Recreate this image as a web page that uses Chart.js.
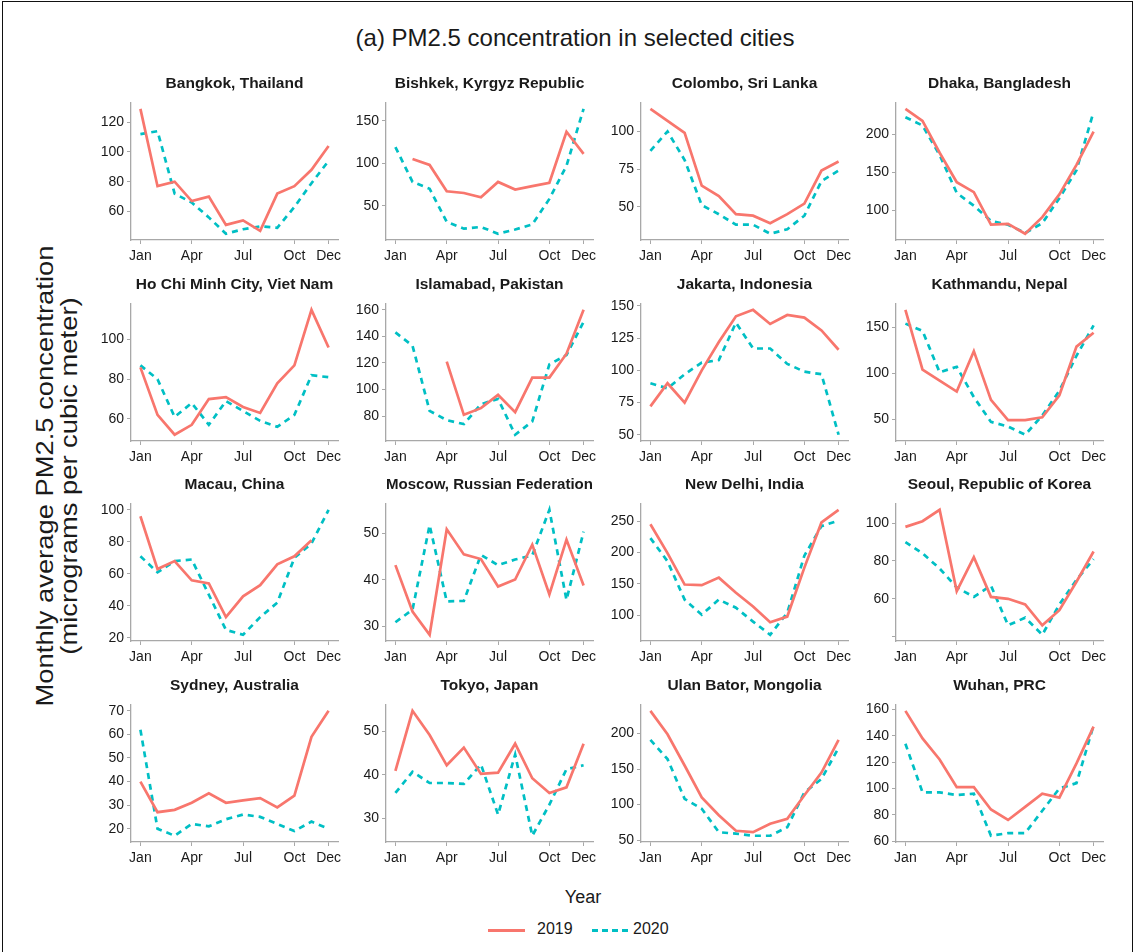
<!DOCTYPE html>
<html lang="en">
<head>
<meta charset="UTF-8">
<title>PM2.5 concentration in selected cities</title>
<script src="https://cdn.jsdelivr.net/npm/chart.js"></script>
<style>
    body {
        margin: 0;
        background: #ffffff;
        font-family: "Liberation Sans", Arial, sans-serif;
        color: #1a1a1a;
    }
    #page {
        position: relative;
        width: 1136px;
        height: 952px;
        overflow: hidden;
    }
    #frame {
        position: absolute;
        left: 2px;
        top: 1px;
        width: 1129px;
        height: 1000px;
        border: 1.5px solid #111;
    }
    #title {
        position: absolute;
        left: 0;
        width: 1150px;
        top: 24px;
        text-align: center;
        font-size: 24px;
    }
    #ylab {
        position: absolute;
        left: 57px;
        top: 476px;
        width: 700px;
        text-align: center;
        font-size: 24px;
        line-height: 24px;
        transform: translate(-50%, -50%) rotate(-90deg) scaleX(1.14);
    }
    #xlab {
        position: absolute;
        left: 483px;
        width: 200px;
        top: 887px;
        text-align: center;
        font-size: 18px;
    }
    .panel {
        position: absolute;
    }
    .key {
        position: absolute;
        top: 920px;
        font-size: 16px;
    }
    .swatch {
        position: absolute;
        top: 929px;
        width: 37px;
        height: 3px;
    }
</style>
</head>
<body>
<div id="page">
    <div id="frame"></div>
    <div id="title">(a) PM2.5 concentration in selected cities</div>
    <div id="ylab">Monthly average PM2.5 concentration<br>(micrograms per cubic meter)</div>
    <div id="xlab">Year</div>

    <!-- legend -->
    <div class="swatch" style="left:488px; background:#F8766D;"></div>
    <div class="key" style="left:537px;">2019</div>
    <div class="swatch" style="left:592px; background:repeating-linear-gradient(to right, #00BFC4 0 6px, transparent 6px 10px);"></div>
    <div class="key" style="left:633px;">2020</div>
</div>

<script>
    // month axis
    const monthTicks = [1, 4, 7, 10, 12];
    const monthTickLabels = ['Jan', 'Apr', 'Jul', 'Oct', 'Dec'];

    const cities = [
        'Bangkok, Thailand', 'Bishkek, Kyrgyz Republic', 'Colombo, Sri Lanka', 'Dhaka, Bangladesh',
        'Ho Chi Minh City, Viet Nam', 'Islamabad, Pakistan', 'Jakarta, Indonesia', 'Kathmandu, Nepal',
        'Macau, China', 'Moscow, Russian Federation', 'New Delhi, India', 'Seoul, Republic of Korea',
        'Sydney, Australia', 'Tokyo, Japan', 'Ulan Bator, Mongolia', 'Wuhan, PRC'
    ];

    // monthly values Jan..Dec (null = no data)
    const bangkok2019 = [129, 77, 80, 67, 70, 51, 54, 47, 72, 77, 88, 104];
    const bangkok2020 = [112, 114, 72, 66, 56, 45, 48, 50, 49, 63, 79, 94];
    const bishkek2019 = [null, 105, 98, 67, 65, 60, 78, 69, 73, 77, 137, 111];
    const bishkek2020 = [119, 78, 70, 31, 23, 25, 17, 22, 28, 58, 97, 164];
    const colombo2019 = [115, 107, 99, 64, 57, 45, 44, 39, 45, 52, 74, 80];
    const colombo2020 = [87, 100, 81, 51, 45, 38, 38, 32, 35, 44, 67, 74];
    const dhaka2019 = [234, 218, 176, 137, 124, 81, 82, 69, 91, 121, 160, 204];
    const dhaka2020 = [223, 212, 173, 123, 106, 86, 81, 70, 83, 116, 153, 230];
    const hcmc2019 = [86, 62, 52, 57, 70, 71, 66, 63, 78, 87, 115, 96];
    const hcmc2020 = [87, 80, 61, 68, 57, 69, 64, 59, 56, 62, 82, 81];
    const islamabad2019 = [null, null, null, 121, 81, 86, 96, 83, 109, 109, 127, 160];
    const islamabad2020 = [143, 133, 84, 77, 74, 89, 93, 66, 76, 119, 126, 151];
    const jakarta2019 = [72, 90, 75, 100, 122, 142, 147, 136, 143, 141, 131, 116];
    const jakarta2020 = [90, 86, 97, 106, 108, 137, 117, 117, 105, 99, 97, 50];
    const kathmandu2019 = [169, 104, 92, 80, 124, 71, 49, 49, 52, 76, 129, 144];
    const kathmandu2020 = [154, 146, 101, 107, 74, 47, 42, 33, 54, 81, 119, 152];
    const macau2019 = [96, 63, 68, 56, 54, 33, 46, 53, 66, 71, 81, null];
    const macau2020 = [71, 61, 68, 69, 47, 25, 22, 33, 42, 70, 79, 100];
    const moscow2019 = [43.2, 33.2, 28.2, 50.9, 45.5, 44.5, 38.6, 40.1, 47.6, 36.9, 48.7, 38.8];
    const moscow2020 = [30.9, 33.6, 51.8, 35.4, 35.5, 45.4, 43.2, 44.4, 45.3, 55.1, 35.7, 50.4];
    const delhi2019 = [245, 199, 149, 148, 160, 136, 114, 89, 98, 176, 248, 268];
    const delhi2020 = [223, 186, 125, 101, 125, 112, 90, 69, 104, 195, 242, 251];
    const seoul2019 = [98, 101, 107, 64, 82, 61, 60, 57, 46, 54, 69, 85];
    const seoul2020 = [90, 84, 76, 66, 61, 67, 46, 50, 41, 57, 70, 81];
    const sydney2019 = [40, 27, 28, 31, 35, 31, 32, 33, 29, 34, 59, 70];
    const sydney2020 = [62, 20, 17, 22, 21, 24, 26, 25, 22, 19, 23, 20];
    const tokyo2019 = [40.9, 54.8, 49.2, 42.2, 46.3, 40.2, 40.5, 47.2, 39.2, 35.8, 37.1, 47.2];
    const tokyo2020 = [35.8, 40.7, 38.1, 38.1, 37.9, 42.4, 30.8, 44.7, 25.9, 33.1, 41.3, 42.2];
    const ulanbator2019 = [232, 199, 155, 110, 85, 63, 61, 73, 80, 113, 145, 191];
    const ulanbator2020 = [191, 164, 108, 94, 61, 59, 56, 56, 68, 117, 136, 180];
    const wuhan2019 = [159, 138, 122, 101, 101, 84, 76, 86, 96, 93, 119, 147];
    const wuhan2020 = [134, 97, 97, 95, 96, 64, 66, 66, 83, 100, 104, 148];

    const series2019 = [bangkok2019, bishkek2019, colombo2019, dhaka2019, hcmc2019, islamabad2019,
        jakarta2019, kathmandu2019, macau2019, moscow2019, delhi2019, seoul2019,
        sydney2019, tokyo2019, ulanbator2019, wuhan2019];
    const series2020 = [bangkok2020, bishkek2020, colombo2020, dhaka2020, hcmc2020, islamabad2020,
        jakarta2020, kathmandu2020, macau2020, moscow2020, delhi2020, seoul2020,
        sydney2020, tokyo2020, ulanbator2020, wuhan2020];

    // y tick values per panel; the Seoul 40 tick has a mark but no label
    const yTicks = [
        [60, 80, 100, 120], [50, 100, 150], [50, 75, 100], [100, 150, 200],
        [60, 80, 100], [80, 100, 120, 140, 160], [50, 75, 100, 125, 150], [50, 100, 150],
        [20, 40, 60, 80, 100], [30, 40, 50], [100, 150, 200, 250], [40, 60, 80, 100],
        [20, 30, 40, 50, 60, 70], [30, 40, 50], [50, 100, 150, 200], [60, 80, 100, 120, 140, 160]
    ];
    const unlabeledTicks = [[], [], [], [], [], [], [], [], [], [], [], [40], [], [], [], []];

    const FONT = '"Liberation Sans", Arial, sans-serif';
    const AXIS_GREY = '#a8a8a8';
    const page = document.getElementById('page');

    function toPoints(vals) {
        return vals.map((v, i) => ({ x: i + 1, y: v }));
    }

    cities.forEach((city, k) => {
        const col = k % 4;
        const row = Math.floor(k / 4);
        const canvas = document.createElement('canvas');
        canvas.className = 'panel';
        canvas.width = 262;
        canvas.height = 200;
        canvas.style.left = (85 + col * 255) + 'px';
        canvas.style.top = (70 + row * 200.7) + 'px';
        page.appendChild(canvas);

        const v19 = series2019[k];
        const v20 = series2020[k];
        const all = v19.concat(v20).filter(v => v !== null);
        const lo = Math.min(...all);
        const hi = Math.max(...all);
        const pad = (hi - lo) * 0.05;
        const ticks = yTicks[k];
        const hidden = unlabeledTicks[k];

        new Chart(canvas, {
            type: 'line',
            data: {
                datasets: [{
                    label: '2019',
                    data: toPoints(v19),
                    borderColor: '#F8766D',
                    borderWidth: 2.7,
                    pointRadius: 0,
                    tension: 0,
                    spanGaps: false
                }, {
                    label: '2020',
                    data: toPoints(v20),
                    borderColor: '#00BFC4',
                    borderWidth: 2.7,
                    borderDash: [6, 5],
                    pointRadius: 0,
                    tension: 0,
                    spanGaps: false
                }]
            },
            options: {
                responsive: false,
                animation: false,
                devicePixelRatio: 1,
                layout: { padding: { left: 0, right: 9, top: 4, bottom: 0 } },
                plugins: {
                    legend: { display: false },
                    tooltip: { enabled: false },
                    title: {
                        display: true,
                        text: city,
                        fullSize: false,
                        color: '#1a1a1a',
                        font: { family: FONT, size: 15.5, weight: 'bold' },
                        padding: { top: 0, bottom: 10 }
                    }
                },
                scales: {
                    x: {
                        type: 'linear',
                        min: 0.45,
                        max: 12.55,
                        afterBuildTicks: s => { s.ticks = monthTicks.map(v => ({ value: v })); },
                        afterFit: s => { s.height = 30; },
                        ticks: {
                            autoSkip: false,
                            maxRotation: 0,
                            padding: 4,
                            color: '#1a1a1a',
                            font: { family: FONT, size: 14 },
                            callback: (v, i) => monthTickLabels[i]
                        },
                        grid: { drawOnChartArea: false, tickLength: 4, color: AXIS_GREY },
                        border: { color: AXIS_GREY, width: 1.3 }
                    },
                    y: {
                        min: lo - pad,
                        max: hi + pad,
                        afterBuildTicks: s => { s.ticks = ticks.map(v => ({ value: v })); },
                        afterFit: s => { s.width = 46; },
                        ticks: {
                            padding: 3,
                            color: '#1a1a1a',
                            font: { family: FONT, size: 14 },
                            callback: v => hidden.includes(v) ? '' : String(v)
                        },
                        grid: { drawOnChartArea: false, tickLength: 4, color: AXIS_GREY },
                        border: { color: AXIS_GREY, width: 1.3 }
                    }
                }
            }
        });
    });
</script>
</body>
</html>
